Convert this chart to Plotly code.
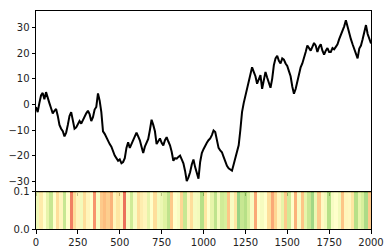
import plotly.graph_objects as go
from plotly.subplots import make_subplots

# Line series: value read every 10 steps
step_x = list(range(0, 2001, 10))
walk = [
    -1.0, -3.0, 0.5, 3.5, 4.5, 2.0, 4.8, 3.0, 0.5, -1.5,
    -3.5, -2.5, -1.8, -4.5, -8.0, -9.5, -10.5, -12.5, -11.0, -8.0,
    -4.5, -3.0, -6.0, -9.5, -9.0, -7.5, -6.5, -7.5, -6.0, -4.5,
    -3.5, -2.5, -3.8, -6.5, -5.0, -2.0, -1.0, 4.3, 1.5, -3.0,
    -10.5, -11.5, -13.0, -14.0, -15.5, -16.5, -18.5, -20.0, -21.0, -22.0,
    -21.5, -23.0, -22.5, -21.0, -17.0, -14.8, -17.0, -15.5, -13.5, -12.0,
    -11.0, -12.5, -14.0, -16.5, -19.0, -16.5, -15.0, -13.5, -10.0, -6.0,
    -8.0, -10.5, -15.5, -14.5, -13.3, -15.0, -16.0, -14.0, -12.8, -14.5,
    -16.0, -18.5, -22.0, -21.0, -21.2, -20.5, -20.0, -21.5, -23.0, -26.0,
    -30.0, -28.5, -26.5, -23.5, -21.5, -24.5, -27.0, -29.0, -22.5, -19.0,
    -17.5, -16.0, -15.0, -14.0, -13.3, -12.0, -10.2, -10.8, -14.0, -17.0,
    -18.0, -18.7, -20.5, -22.5, -24.0, -25.0, -25.5, -25.9, -23.5, -21.2,
    -19.0, -16.0, -10.0, -3.0, 0.5, 3.5, 6.0, 8.7, 12.0, 14.5,
    12.7, 11.0, 8.1, 10.0, 11.4, 6.1, 9.5, 12.7, 10.5, 8.7,
    6.5, 10.0, 15.3, 18.0, 19.0, 17.0, 16.0, 18.0, 17.5, 16.0,
    15.0, 13.0, 11.0, 7.0, 4.2, 6.0, 9.0, 12.5, 14.5, 16.0,
    18.0, 20.5, 23.0, 22.0, 21.0, 22.5, 24.0, 23.0, 20.5, 22.5,
    23.5, 21.0, 19.5, 21.0, 22.0, 20.5, 20.5, 22.0, 21.5, 22.5,
    23.5, 25.5, 27.0, 28.5, 30.5, 32.9, 30.0, 27.5, 25.5, 23.5,
    21.5, 19.5, 18.0, 21.8, 23.0, 25.5, 29.0, 31.0, 27.5, 25.5,
    23.8,
]

# Colour strip: one value per block of 20 steps (0 = red, 1 = green)
strip_vals = [
    0.55, 0.42, 0.50, 0.58, 0.66, 0.50, 0.38, 0.46, 0.66, 0.50,
    0.18, 0.38, 0.46, 0.54, 0.38, 0.46, 0.50, 0.22, 0.52, 0.33,
    0.30, 0.34, 0.28, 0.46, 0.40, 0.46, 0.15, 0.52, 0.64, 0.52,
    0.38, 0.43, 0.46, 0.58, 0.50, 0.38, 0.54, 0.56, 0.60, 0.68,
    0.33, 0.50, 0.52, 0.36, 0.66, 0.46, 0.38, 0.53, 0.54, 0.70,
    0.40, 0.50, 0.58, 0.68, 0.54, 0.64, 0.62, 0.32, 0.52, 0.40,
    0.76, 0.66, 0.70, 0.62, 0.52, 0.26, 0.50, 0.53, 0.50, 0.38,
    0.26, 0.36, 0.46, 0.58, 0.33, 0.64, 0.50, 0.28, 0.52, 0.32,
    0.58, 0.66, 0.74, 0.56, 0.33, 0.48, 0.54, 0.70, 0.52, 0.50,
    0.54, 0.32, 0.46, 0.47, 0.40, 0.70, 0.58, 0.62, 0.72, 0.33,
]
strip_edges = list(range(0, 2001, 20))

x_ticks = [0, 250, 500, 750, 1000, 1250, 1500, 1750, 2000]
y_ticks = [-30, -20, -10, 0, 10, 20, 30]
strip_ticks = [0.0, 0.1]

fig = make_subplots(rows=2, cols=1, shared_xaxes=True, vertical_spacing=0,
                    row_heights=[0.83, 0.17])

fig.add_trace(go.Scatter(x=step_x, y=walk, mode="lines",
                         line=dict(color="black", width=2),
                         showlegend=False, hoverinfo="skip"), row=1, col=1)

fig.add_trace(go.Heatmap(z=[strip_vals], x=strip_edges, y=[0.0, 0.1],
                         colorscale="RdYlGn", zmin=0, zmax=1, opacity=0.8,
                         showscale=False, hoverinfo="skip"), row=2, col=1)

axis_common = dict(showline=True, mirror=True, linecolor="black", linewidth=1,
                   ticks="outside", ticklen=3.5, tickwidth=1, tickcolor="black",
                   showgrid=False, zeroline=False, automargin=False,
                   tickfont=dict(family="DejaVu Sans", size=10, color="#222"))

fig.update_xaxes(**axis_common, range=[0, 2000], tickvals=x_ticks)
fig.update_xaxes(showticklabels=False, row=1, col=1)
fig.update_yaxes(**axis_common)
fig.update_yaxes(range=[-34.2, 36.5], tickvals=y_ticks, row=1, col=1)
fig.update_yaxes(range=[0, 0.1], tickvals=strip_ticks, tickformat=".1f", row=2, col=1)

fig.update_layout(width=389, height=252,
                  margin=dict(l=36, r=18, t=11, b=23),
                  paper_bgcolor="white", plot_bgcolor="white",
                  font=dict(family="DejaVu Sans", size=10))

fig.write_html("out.html")
